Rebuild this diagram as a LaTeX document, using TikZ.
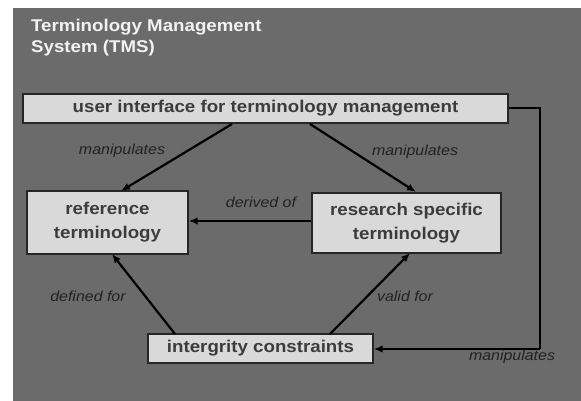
\documentclass[tikz,border=0pt]{standalone}
\usepackage{fontspec}
\setmainfont[FakeStretch=1.1]{Liberation Sans}
\usetikzlibrary{arrows.meta}
\definecolor{bggray}{HTML}{6B6B6B}
\definecolor{boxgray}{HTML}{D9D9D9}
\definecolor{boxtext}{HTML}{3C3C3C}
\definecolor{titletext}{HTML}{F2F2F2}
\definecolor{labeltext}{HTML}{222222}
\tikzset{
  tbox/.style={draw=black!85, line width=1.3pt, fill=boxgray, text=boxtext,
    inner sep=0pt, align=center, font=\fontsize{17}{24}\selectfont\bfseries},
  conn/.style={line width=2.2pt, draw=black, -{Latex[length=9pt,width=7.5pt]}},
  lbl/.style={text=labeltext, font=\fontsize{14.5}{16}\selectfont\itshape, inner sep=0pt},
}
\begin{document}
\begin{tikzpicture}[x=1pt,y=-1pt]
\useasboundingbox (0,0) rectangle (581,401);
\fill[white] (0,0) rectangle (581,401);
\fill[bggray] (13,8) rectangle (581,401);
\node[anchor=north west, text=titletext, align=left, inner sep=0pt,
  font=\fontsize{17}{21}\selectfont\bfseries] (title) at (31,18.5)
  {Terminology Management\\System (TMS)};
\node[tbox, minimum width=485pt, minimum height=29pt] (ui) at (265.5,108.5)
  {user interface for terminology management};
\node[tbox, minimum width=161pt, minimum height=63pt] (ref) at (107.5,222.5)
  {\raisebox{-2pt}{reference}\\\raisebox{-2pt}{terminology}};
\node[tbox, minimum width=189pt, minimum height=60pt] (res) at (406.5,223)
  {\raisebox{-2pt}{research specific}\\\raisebox{-2pt}{terminology}};
\node[tbox, minimum width=225pt, minimum height=29pt] (ic) at (260.5,348.5)
  {intergrity constraints};
\coordinate (uiA) at (232,124);
\coordinate (uiB) at (310,124);
\coordinate (refT) at (121,191);
\coordinate (resT) at (416,192);
\coordinate (icA) at (175,334);
\coordinate (icB) at (330,334);
\coordinate (refB) at (112,254);
\coordinate (resB) at (410,253);
\coordinate (r1) at (540,108);
\coordinate (r2) at (540,349);
\draw[conn] (uiA) -- (refT);
\draw[conn] (uiB) -- (resT);
\draw[conn] (res.west |- 0,221) -- (ref.east |- 0,221);
\draw[conn] (icA) -- (refB);
\draw[conn] (icB) -- (resB);
\draw[line width=2.2pt] (ui.east |- r1) -- (r1) -- (r2);
\draw[conn] (r2) -- (ic.east |- r2);
\node[lbl] (l1) at (122,151) {manipulates};
\node[lbl] (l2) at (415,152) {manipulates};
\node[lbl] (l3) at (261,202) {derived of};
\node[lbl] (l4) at (88,296) {defined for};
\node[lbl] (l5) at (405,296) {valid for};
\node[lbl] (l6) at (512,357) {manipulates};
\end{tikzpicture}
\end{document}
